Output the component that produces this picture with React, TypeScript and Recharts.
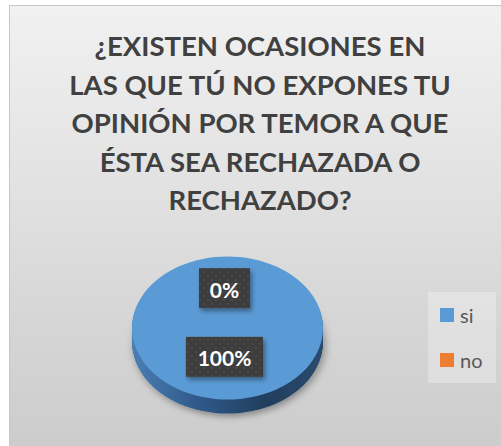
import React from "react";
import { PieChart, Pie, Cell, Legend } from "recharts";

const CATEGORIES = ["si", "no"];
const VALUES = [100, 0];
const COLORS = ["#5b9bd5", "#ed7d31"];
const TITLE_LINES = [
  "¿EXISTEN OCASIONES EN",
  "LAS QUE TÚ NO EXPONES TU",
  "OPINIÓN POR TEMOR A QUE",
  "ÉSTA SEA RECHAZADA O",
  "RECHAZADO?",
];

const data = CATEGORIES.map((name, i) => ({ name, value: VALUES[i] }));

// geometry of the tilted pie (chart coords)
const CX = 217.5;
const CY = 322;
const R = 95.5;
const SQUASH = 0.749;
const DEPTH = 14;
const LABEL_R = 0.48;
const RADIAN = Math.PI / 180;
const FONT = "Lato, 'Open Sans', sans-serif";

const depthSteps = Array.from({ length: DEPTH }, (_, i) => DEPTH - i);

const renderLabel = (props: any) => {
  const { cx, cy, midAngle, outerRadius, percent } = props;
  const a = -midAngle * RADIAN;
  const x = cx + outerRadius * LABEL_R * Math.cos(a) - 3;
  const y = cy + outerRadius * LABEL_R * Math.sin(a) * SQUASH - 5.5;
  const text = `${Math.round(percent * 100)}%`;
  const w = (text.length - 1) * 13 + 18 + 20;
  const h = 40;
  return (
    <g>
      <rect
        x={x - w / 2}
        y={y - h / 2}
        width={w}
        height={h}
        fill="url(#lblPattern)"
        filter="url(#lblShadow)"
      />
      <text
        x={x}
        y={y + 1}
        textAnchor="middle"
        dominantBaseline="central"
        fill="#ffffff"
        fontFamily={FONT}
        fontWeight={700}
        fontSize={21}
      >
        {text}
      </text>
    </g>
  );
};

// legend drawn from the category list so extra pie layers don't repeat it
const renderLegend = () => (
  <div
    style={{
      width: 68,
      height: 91,
      background: "rgba(255,255,255,0.28)",
      boxSizing: "border-box",
      paddingTop: 16,
      paddingLeft: 12,
    }}
  >
    {CATEGORIES.map((name, i) => (
      <div
        key={name}
        style={{
          display: "flex",
          alignItems: "center",
          height: 14,
          marginBottom: 31,
        }}
      >
        <span
          style={{
            display: "inline-block",
            width: 14,
            height: 14,
            background: COLORS[i],
            marginRight: 6,
          }}
        />
        <span
          style={{
            fontFamily: FONT,
            fontSize: 20,
            color: "#595959",
            lineHeight: "14px",
          }}
        >
          {name}
        </span>
      </div>
    ))}
  </div>
);

export default function App() {
  return (
    <div
      style={{
        position: "absolute",
        left: 0,
        top: 0,
        width: 501,
        height: 446,
        overflow: "hidden",
        background: "#ffffff",
      }}
    >
      <style>{`
        .pie-squash {
          transform: scale(1, ${SQUASH});
          transform-origin: ${CX}px ${CY}px;
        }
        .pie-squash .pie-squash {
          transform: none;
        }
      `}</style>
      <div
        style={{
          position: "absolute",
          left: 9,
          top: 5,
          width: 502,
          height: 445,
          boxSizing: "border-box",
          borderTop: "1px solid #c6c6c6",
          borderLeft: "1px solid #c6c6c6",
          background:
            "linear-gradient(180deg, #f1f1f1 0%, #e4e4e4 35%, #d6d6d6 70%, #cccccc 100%)",
        }}
      >
        <div
          style={{
            position: "absolute",
            left: 0,
            top: 21.1,
            width: 500,
            textAlign: "center",
            fontFamily: FONT,
            fontWeight: 700,
            fontSize: 27.5,
            lineHeight: "38.5px",
            color: "#404040",
          }}
        >
          {TITLE_LINES.map((line) => (
            <div key={line}>{line}</div>
          ))}
        </div>
        <div style={{ position: "absolute", left: 0, top: 0 }}>
          <PieChart
            width={490}
            height={439}
            margin={{ top: 0, right: 0, bottom: 0, left: 0 }}
          >
            <defs>
              <linearGradient id="sideGrad" x1="0" y1="0" x2="1" y2="0">
                <stop offset="0%" stopColor="#4a7eb4" />
                <stop offset="35%" stopColor="#30598a" />
                <stop offset="70%" stopColor="#223e5d" />
                <stop offset="100%" stopColor="#2a4b6e" />
              </linearGradient>
              <filter id="pieShadow" x="-20%" y="-20%" width="140%" height="150%">
                <feDropShadow dx="2" dy="4" stdDeviation="4" floodColor="#000" floodOpacity="0.35" />
              </filter>
              <pattern id="lblPattern" width="8" height="8" patternUnits="userSpaceOnUse">
                <rect width="8" height="8" fill="#3d3d3d" />
                <circle cx="2" cy="2" r="1.1" fill="#4b4b4b" />
                <circle cx="6" cy="6" r="1.1" fill="#4b4b4b" />
              </pattern>
              <filter id="lblShadow" x="-30%" y="-30%" width="160%" height="170%">
                <feDropShadow dx="2" dy="3" stdDeviation="2.5" floodColor="#000" floodOpacity="0.4" />
              </filter>
            </defs>
            {depthSteps.map((d) => (
              <Pie
                key={`depth-${d}`}
                className="pie-squash"
                data={data}
                dataKey="value"
                nameKey="name"
                cx={CX}
                cy={CY + d / SQUASH}
                outerRadius={R}
                startAngle={90}
                endAngle={-270}
                fill="url(#sideGrad)"
                stroke="none"
                legendType="none"
                filter={d === DEPTH ? "url(#pieShadow)" : undefined}
                isAnimationActive={false}
              />
            ))}
            <Pie
              className="pie-squash"
              data={data}
              dataKey="value"
              nameKey="name"
              cx={CX}
              cy={CY}
              outerRadius={R}
              startAngle={90}
              endAngle={-270}
              stroke="none"
              isAnimationActive={false}
            >
              {data.map((_, i) => (
                <Cell key={i} fill={COLORS[i % COLORS.length]} />
              ))}
            </Pie>
            <Pie
              data={data}
              dataKey="value"
              nameKey="name"
              cx={CX}
              cy={CY}
              outerRadius={R}
              startAngle={90}
              endAngle={-270}
              fill="transparent"
              stroke="none"
              legendType="none"
              label={renderLabel}
              labelLine={false}
              isAnimationActive={false}
            />
            <Legend
              layout="vertical"
              align="right"
              verticalAlign="top"
              content={renderLegend}
              wrapperStyle={{ left: 418, top: 286, right: "auto", width: 68, height: 91 }}
            />
          </PieChart>
        </div>
      </div>
    </div>
  );
}
